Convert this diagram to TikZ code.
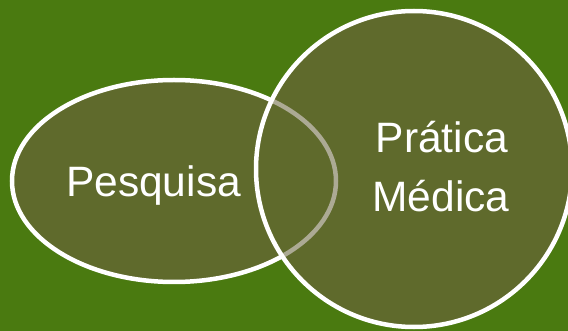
\documentclass[tikz,border=0pt]{standalone}
\usepackage{fontspec}
\setmainfont{Liberation Sans}
\definecolor{bggreen}{RGB}{74,122,16}
\definecolor{olivefill}{RGB}{95,106,44}
\definecolor{hiddenline}{RGB}{172,170,148}
\begin{document}
\begin{tikzpicture}[x=1pt,y=-1pt,
  shapeline/.style={draw=white,line width=4.5pt},
  lbl/.style={text=white,font=\fontsize{42.5}{48}\selectfont,anchor=base,inner sep=0pt}]
\fill[bggreen] (0,0) rectangle (568,331);
\useasboundingbox (0,0) rectangle (568,331);
\coordinate (ec) at (174,181);
\coordinate (cc) at (414,169);
\fill[olivefill] (ec) ellipse [x radius=162, y radius=101];
\draw[shapeline] (ec) ellipse [x radius=162, y radius=101];
\fill[olivefill] (cc) circle [radius=158];
\begin{scope}
  \clip (cc) circle [radius=158];
  \draw[draw=hiddenline,line width=4.5pt] (ec) ellipse [x radius=162, y radius=101];
\end{scope}
\draw[shapeline] (cc) circle [radius=158];
\node[lbl] (pes) at (153.5,197) {Pesquisa};
\node[lbl] (pra) at (442,153) {Prática};
\node[lbl] (med) at (441,212) {Médica};
\end{tikzpicture}
\end{document}
